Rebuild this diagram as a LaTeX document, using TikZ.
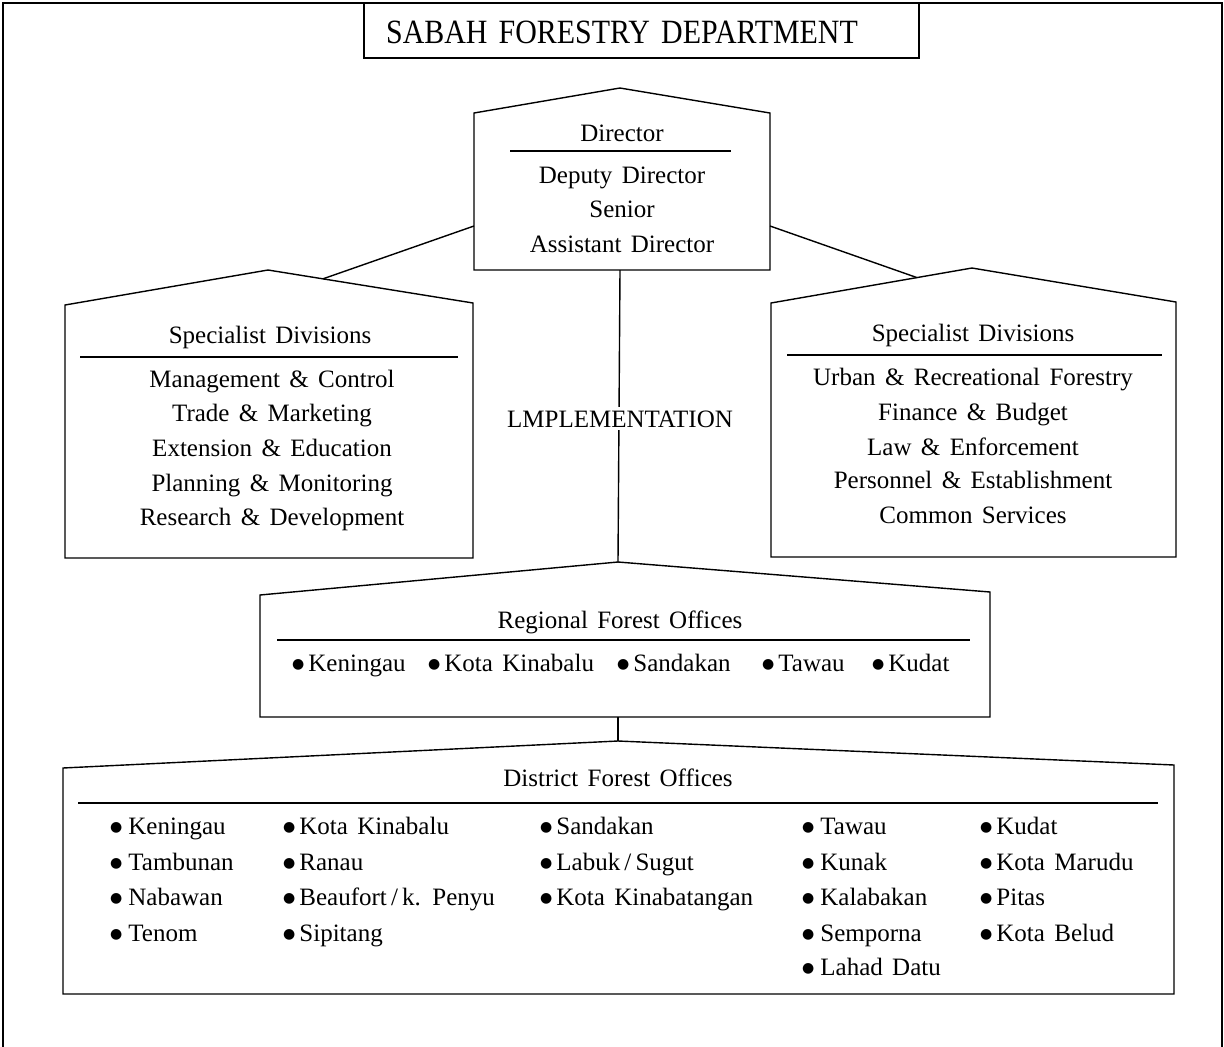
\documentclass[tikz,border=0pt]{standalone}
\usepackage{fontspec}
\setmainfont[WordSpace=1.5]{Liberation Serif}
\newfontfamily\bulfont{DejaVu Sans}
\usetikzlibrary{calc}
\newcommand\itm[2][6pt]{\raisebox{2.6pt}{\bulfont\fontsize{14}{14}\selectfont ●}\hspace{#1}#2}
\tikzset{
  txt/.style={inner sep=0pt, anchor=base, font=\fontsize{25}{30}\selectfont},
  itemtxt/.style={inner sep=0pt, anchor=base west, font=\fontsize{25}{30}\selectfont},
  boxline/.style={line width=1.4pt, line join=miter},
  rule/.style={line width=1.1pt},
  conn/.style={line width=1.4pt}
}
\begin{document}
\begin{tikzpicture}[x=1pt,y=-1pt]
\useasboundingbox (0,0) rectangle (1224,1047);
% outer frame
\draw[line width=1.2pt] (3,1047) -- (3,3) -- (1222,3) -- (1222,1047);
% title
\draw[boxline] (364,3) rectangle (919,58);
\node[txt, font=\fontsize{34}{40}\selectfont] (title) at (622,43) {\scalebox{0.88}[1]{SABAH FORESTRY DEPARTMENT}};

% Director pentagon
\coordinate (dirpeak) at (620,88);
\draw[boxline] (474,270) -- (474,113) -- (dirpeak) -- (770,113) -- (770,270) -- cycle;
\coordinate (dirL) at (474,226);
\coordinate (dirR) at (770,226);
\coordinate (dirB) at (620,270);
\node[txt] (dir) at (622,141) {Director};
\draw[rule] (510,151) -- (731,151);
\node[txt] (dep) at (622,183) {Deputy Director};
\node[txt] (sen) at (622,217) {Senior};
\node[txt] (asst) at (622,252) {Assistant Director};

% Left specialist pentagon
\coordinate (lpeak) at (268,270);
\draw[boxline] (65,558) -- (65,305) -- (lpeak) -- (473,303) -- (473,558) -- cycle;
\coordinate (lroof) at ($(lpeak)!0.268!(473,303)$);
\node[txt] (lhead) at (270,343) {Specialist Divisions};
\draw[rule] (80,357) -- (458,357);
\node[txt] (l1) at (272,387) {Management \& Control};
\node[txt] (l2) at (272,421) {Trade \& Marketing};
\node[txt] (l3) at (272,456) {Extension \& Education};
\node[txt] (l4) at (272,491) {Planning \& Monitoring};
\node[txt] (l5) at (272,525) {Research \& Development};

% Right specialist pentagon
\coordinate (rpeak) at (972,268);
\draw[boxline] (771,557) -- (771,303) -- (rpeak) -- (1176,302) -- (1176,557) -- cycle;
\coordinate (rroof) at ($(771,303)!0.726!(rpeak)$);
\node[txt] (rhead) at (973,341) {Specialist Divisions};
\draw[rule] (787,355) -- (1162,355);
\node[txt] (r1) at (973,385) {Urban \& Recreational Forestry};
\node[txt] (r2) at (973,420) {Finance \& Budget};
\node[txt] (r3) at (973,455) {Law \& Enforcement};
\node[txt] (r4) at (973,488) {Personnel \& Establishment};
\node[txt] (r5) at (973,523) {Common Services};

% Regional
\coordinate (regpeak) at (618,562);
\draw[boxline] (260,717) -- (260,595) -- (regpeak) -- (990,592) -- (990,717) -- cycle;
\coordinate (regB) at (618,717);
\node[txt] (reghead) at (620,628) {Regional Forest Offices};
\draw[rule] (277,640) -- (970,640);
\node[itemtxt] (g1) at (292,671) {\itm[4pt]{Keningau}};
\node[itemtxt] (g2) at (428,671) {\itm[4pt]{Kota Kinabalu}};
\node[itemtxt] (g3) at (617,671) {\itm[4pt]{Sandakan}};
\node[itemtxt] (g4) at (762,671) {\itm[4pt]{Tawau}};
\node[itemtxt] (g5) at (872,671) {\itm[4pt]{Kudat}};

% District
\coordinate (distpeak) at (618,741);
\draw[boxline] (63,994) -- (63,768) -- (distpeak) -- (1174,765) -- (1174,994) -- cycle;
\node[txt] (disthead) at (618,786) {District Forest Offices};
\draw[rule] (78,803) -- (1158,803);
% column 1
\node[itemtxt] (d11) at (110,834) {\itm{Keningau}};
\node[itemtxt] (d12) at (110,870) {\itm{Tambunan}};
\node[itemtxt] (d13) at (110,905) {\itm{Nabawan}};
\node[itemtxt] (d14) at (110,941) {\itm{Tenom}};
% column 2
\node[itemtxt] (d21) at (283,834) {\itm[4pt]{Kota Kinabalu}};
\node[itemtxt] (d22) at (283,870) {\itm[4pt]{Ranau}};
\node[itemtxt] (d23) at (283,905) {\itm[4pt]{Beaufort\,/\,k. Penyu}};
\node[itemtxt] (d24) at (283,941) {\itm[4pt]{Sipitang}};
% column 3
\node[itemtxt] (d31) at (540,834) {\itm[4pt]{Sandakan}};
\node[itemtxt] (d32) at (540,870) {\itm[4pt]{Labuk\,/\,Sugut}};
\node[itemtxt] (d33) at (540,905) {\itm[4pt]{Kota Kinabatangan}};
% column 4
\node[itemtxt] (d41) at (802,834) {\itm{Tawau}};
\node[itemtxt] (d42) at (802,870) {\itm{Kunak}};
\node[itemtxt] (d43) at (802,905) {\itm{Kalabakan}};
\node[itemtxt] (d44) at (802,941) {\itm{Semporna}};
\node[itemtxt] (d45) at (802,975) {\itm{Lahad Datu}};
% column 5
\node[itemtxt] (d51) at (980,834) {\itm[4pt]{Kudat}};
\node[itemtxt] (d52) at (980,870) {\itm[4pt]{Kota Marudu}};
\node[itemtxt] (d53) at (980,905) {\itm[4pt]{Pitas}};
\node[itemtxt] (d54) at (980,941) {\itm[4pt]{Kota Belud}};

% connectors
\draw[conn] (dirL) -- (lroof);
\draw[conn] (dirR) -- (rroof);
\draw[conn] (dirB) -- (regpeak);
\draw[conn] (regB) -- (distpeak);

% Implementation label (interrupts the vertical connector)
\node[txt, fill=white, inner sep=3pt] (impl) at (620,427) {LMPLEMENTATION};
\end{tikzpicture}
\end{document}
